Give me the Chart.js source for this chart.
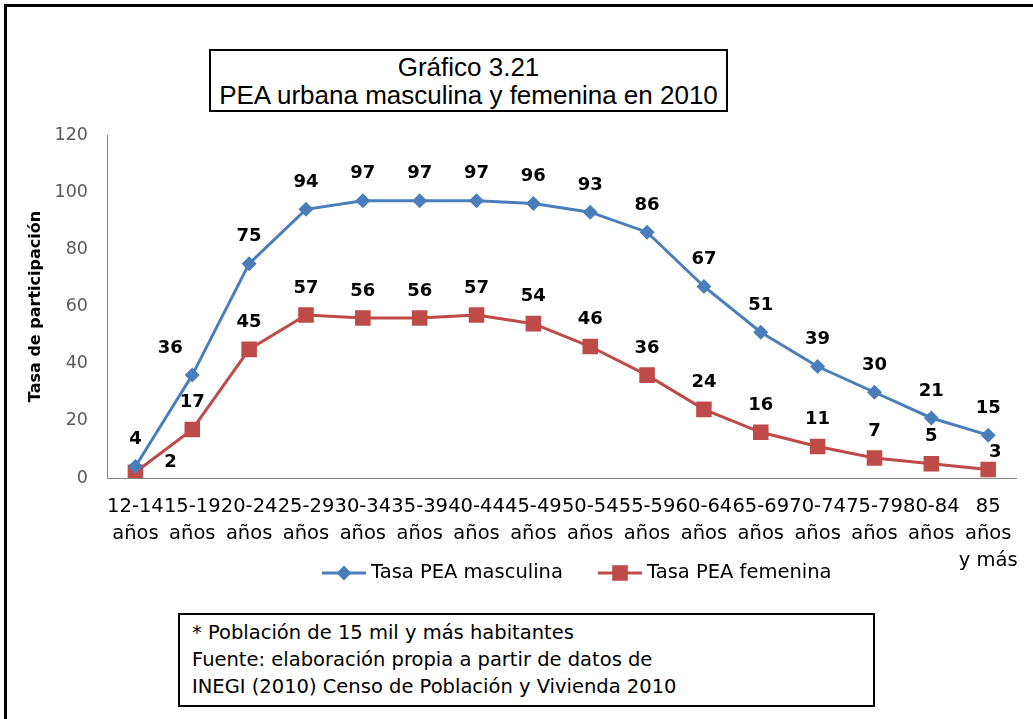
<!DOCTYPE html>
<html lang="es">
<head>
<meta charset="utf-8">
<title>PEA urbana masculina y femenina en 2010</title>
<script src="https://cdn.jsdelivr.net/npm/chart.js@4.4.1/dist/chart.umd.min.js"></script>
<style>
    html, body { margin: 0; padding: 0; background: #fff; }
    body { width: 1033px; height: 719px; position: relative; overflow: hidden; }
    #frame {
        position: absolute; left: 4px; top: 4px; width: 1100px; height: 800px;
        border-left: 3px solid #000; border-top: 3px solid #000;
    }
    #chart { position: absolute; left: 0; top: 0; }
    #title-box {
        position: absolute; left: 209px; top: 49px; width: 519px; height: 63px;
        box-sizing: border-box; border: 2px solid #000; background: #fff;
        font-family: "Liberation Sans", Arial, sans-serif; font-size: 26px;
        line-height: 28px; text-align: center; padding-top: 2px; color: #000;
    }
    #note-box {
        position: absolute; left: 178px; top: 613px; width: 697px; height: 94px;
        box-sizing: border-box; border: 2px solid #000; background: #fff;
        font-family: "DejaVu Sans", sans-serif; font-size: 19.5px;
        line-height: 27px; padding: 4px 0 0 12px; color: #000;
    }
</style>
</head>
<body>
<div id="frame"></div>
<canvas id="chart" width="1033" height="719"></canvas>
<div id="title-box">Gráfico 3.21<br>PEA urbana masculina y femenina en 2010</div>
<div id="note-box">* Población de 15 mil y más habitantes<br>Fuente: elaboración propia a partir de datos de<br>INEGI (2010) Censo de Población y Vivienda 2010</div>

<script>
// Datos
const grupos = [
    ['12-14', 'años'], ['15-19', 'años'], ['20-24', 'años'], ['25-29', 'años'],
    ['30-34', 'años'], ['35-39', 'años'], ['40-44', 'años'], ['45-49', 'años'],
    ['50-54', 'años'], ['55-59', 'años'], ['60-64', 'años'], ['65-69', 'años'],
    ['70-74', 'años'], ['75-79', 'años'], ['80-84', 'años'], ['85', 'años', 'y más']
];
const tasaMasculina = [4, 36, 75, 94, 97, 97, 97, 96, 93, 86, 67, 51, 39, 30, 21, 15];
const tasaFemenina = [2, 17, 45, 57, 56, 56, 57, 54, 46, 36, 24, 16, 11, 7, 5, 3];
const nombresSeries = ['Tasa PEA masculina', 'Tasa PEA femenina'];

const AZUL = '#4A7EBB';
const ROJO = '#BE4B48';

// desplazamientos manuales de algunas etiquetas (como en el original)
const ajustesEtiquetas = {
    0: { 1: [-22, 0] },
    1: { 0: [35, 17], 15: [7, 10] }
};

const etiquetasPlugin = {
    id: 'etiquetas',
    afterDatasetsDraw(chart) {
        const ctx = chart.ctx;
        ctx.save();
        ctx.font = 'bold 18px "DejaVu Sans"';
        ctx.fillStyle = '#000';
        ctx.textAlign = 'center';
        ctx.textBaseline = 'middle';
        chart.data.datasets.forEach((ds, i) => {
            chart.getDatasetMeta(i).data.forEach((pt, j) => {
                const adj = (ajustesEtiquetas[i] && ajustesEtiquetas[i][j]) || [0, 0];
                ctx.fillText(Math.round(ds.data[j]), pt.x + adj[0], pt.y - 27 + adj[1]);
            });
        });
        ctx.restore();
    }
};

const leyendaPlugin = {
    id: 'leyendaExcel',
    afterDraw(chart) {
        const ctx = chart.ctx;
        const y = 573;
        const items = [
            { x: 322, color: AZUL, style: 'rectRot', r: 7.5 },
            { x: 598, color: ROJO, style: 'rect', r: 11 }
        ];
        ctx.save();
        items.forEach((it, i) => {
            ctx.strokeStyle = it.color;
            ctx.lineWidth = 3;
            ctx.beginPath();
            ctx.moveTo(it.x, y);
            ctx.lineTo(it.x + 44, y);
            ctx.stroke();
            ctx.fillStyle = it.color;
            Chart.helpers.drawPoint(ctx, { pointStyle: it.style, radius: it.r, borderWidth: 0 }, it.x + 22, y);
            ctx.fillStyle = '#000';
            ctx.font = '19.5px "DejaVu Sans"';
            ctx.textAlign = 'left';
            ctx.textBaseline = 'middle';
            ctx.fillText(nombresSeries[i], it.x + 49, y);
        });
        ctx.restore();
    }
};

new Chart(document.getElementById('chart'), {
    type: 'line',
    data: {
        labels: grupos,
        datasets: [{
            label: nombresSeries[0],
            data: tasaMasculina,
            borderColor: AZUL,
            backgroundColor: AZUL,
            borderWidth: 3,
            pointStyle: 'rectRot',
            pointRadius: 7.5,
            pointBorderWidth: 0,
            tension: 0
        }, {
            label: nombresSeries[1],
            data: tasaFemenina,
            borderColor: ROJO,
            backgroundColor: ROJO,
            borderWidth: 3,
            pointStyle: 'rect',
            pointRadius: 11,
            pointBorderWidth: 0,
            tension: 0
        }]
    },
    options: {
        responsive: false,
        animation: false,
        layout: { padding: { left: 26, top: 135, right: 13, bottom: 0 } },
        plugins: {
            legend: { display: false },
            tooltip: { enabled: false }
        },
        scales: {
            x: {
                offset: true,
                grid: { display: false, drawTicks: false },
                border: { display: true, color: '#868686', width: 1 },
                ticks: {
                    autoSkip: false,
                    maxRotation: 0,
                    padding: 15,
                    color: '#000',
                    font: { family: '"DejaVu Sans"', size: 19.5, lineHeight: 1.4 }
                },
                afterFit: (scale) => { scale.height = 241; }
            },
            y: {
                min: 0,
                max: 120,
                grid: { display: false, drawTicks: false },
                border: { display: true, color: '#868686', width: 1 },
                ticks: {
                    stepSize: 20,
                    padding: 19,
                    color: '#595959',
                    font: { family: '"DejaVu Sans"', size: 17.5 }
                },
                title: {
                    display: true,
                    text: 'Tasa de participación',
                    color: '#000',
                    padding: 0,
                    font: { family: '"DejaVu Sans"', size: 16, weight: 'bold', lineHeight: 1.2 }
                },
                afterFit: (scale) => { scale.width = 81; }
            }
        }
    },
    plugins: [etiquetasPlugin, leyendaPlugin]
});
</script>
</body>
</html>
